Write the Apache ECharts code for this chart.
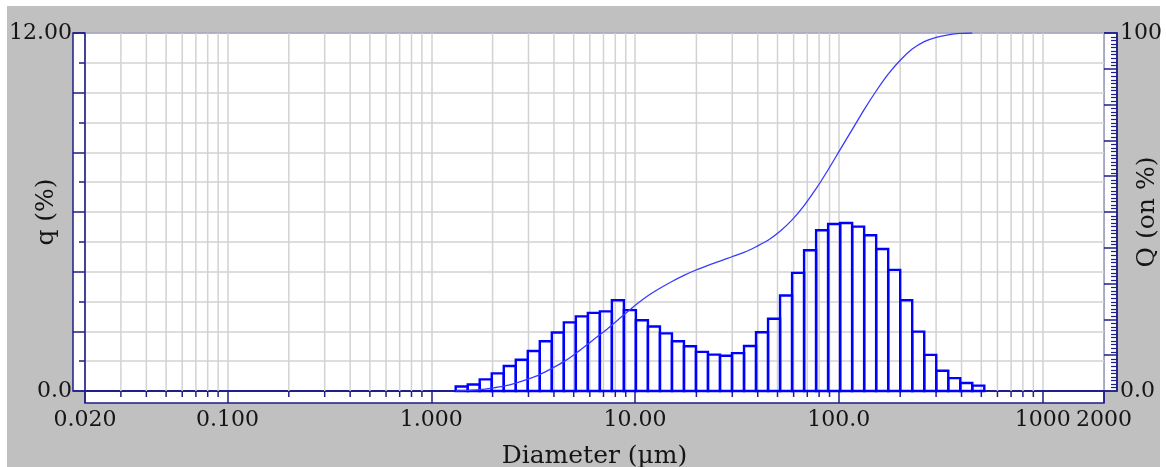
<!DOCTYPE html>
<html>
<head>
<meta charset="utf-8">
<script src="https://cdn.jsdelivr.net/npm/echarts@6/dist/echarts.min.js"></script>
<style>
  html, body { margin: 0; padding: 0; background: #ffffff; }
  #chart { width: 1166px; height: 467px; }
</style>
</head>
<body>
<div id="chart"></div>
<script>
// ---- data ----
// size-class edges (µm) of the histogram
const sizeEdges = [1.318, 1.510, 1.729, 1.981, 2.269, 2.599, 2.976, 3.409, 3.905, 4.472,
  5.122, 5.867, 6.720, 7.697, 8.816, 10.097, 11.565, 13.246, 15.172, 17.377,
  19.904, 22.797, 26.111, 29.907, 34.255, 39.234, 44.938, 51.471, 58.953, 67.523,
  77.339, 88.583, 101.46, 116.21, 133.10, 152.45, 174.61, 200.00, 229.07, 262.37,
  300.52, 344.21, 394.24, 451.56, 517.20];
// q (%) per class
const qValues = [0.15, 0.22, 0.39, 0.59, 0.84, 1.05, 1.34, 1.67, 1.96, 2.30,
  2.50, 2.62, 2.67, 3.04, 2.71, 2.37, 2.16, 1.93, 1.67, 1.50,
  1.31, 1.22, 1.18, 1.27, 1.51, 1.97, 2.42, 3.20, 3.96, 4.72,
  5.39, 5.60, 5.63, 5.51, 5.22, 4.76, 4.06, 3.04, 1.99, 1.21,
  0.68, 0.43, 0.27, 0.18];
// cumulative curve Q (%) points
const cumSizes = [1.318, 1.510, 1.729, 1.981, 2.269, 2.599, 2.976, 3.409, 3.905, 4.472,
  5.122, 5.867, 6.720, 7.697, 8.816, 10.097, 11.565, 13.246, 15.172, 17.377,
  19.904, 22.797, 26.111, 29.907, 34.255, 39.234, 44.938, 51.471, 58.953, 67.523,
  77.339, 88.583, 101.46, 116.21, 133.10, 152.45, 174.61, 200.00, 229.07, 262.37,
  300.52, 344.21, 394.24, 451.56];
const cumQ = [0, 0.15, 0.37, 0.80, 1.35, 2.19, 3.30, 4.60, 6.30, 8.2,
  10.5, 13.1, 15.7, 18.4, 21.3, 24.1, 26.6, 28.7, 30.6, 32.3,
  33.8, 35.1, 36.3, 37.5, 38.7, 40.3, 42.1, 44.6, 47.8, 51.8,
  56.5, 61.8, 67.4, 73.0, 78.6, 83.8, 88.5, 92.4, 95.5, 97.6,
  98.8, 99.5, 99.9, 100];
// axis ticks
const xTickValues = [0.02, 0.1, 1, 10, 100, 1000, 2000];
const xTickLabels = ['0.020', '0.100', '1.000', '10.00', '100.0', '1000', '2000'];
const xMinorGrid = [0.03, 0.04, 0.05, 0.06, 0.07, 0.08, 0.09,
  0.2, 0.3, 0.4, 0.5, 0.6, 0.7, 0.8, 0.9,
  2, 3, 4, 5, 6, 7, 8, 9,
  20, 30, 40, 50, 60, 70, 80, 90,
  200, 300, 400, 500, 600, 700, 800, 900];
const leftTickLabels = { 0: '0.0', 12: '12.00' };
const rightTickLabels = { 0: '0.0', 100: '100' };
// fine 1 % ticks of the right axis (those not on a 10 % tick)
const qFineTicks = [];
for (let i = 1; i < 100; i++) { if (i % 10 !== 0) qFineTicks.push(i); }

// ---- style / layout ----
const NAVY = '#1e1e8c';
const GRIDC = '#d2d2d2';
const BAR = '#0000ff';
const CURVE = '#3a3aff';
const TXT = '#151515';
const FONT = 'DejaVu Serif';
const G = { l: 85, t: 33, r: 1104, b: 391 };
const RSTRIP = 13;

function xLabel(v) {
  let best = 0, bd = Infinity;
  xTickValues.forEach((t, i) => {
    const d = Math.abs(Math.log10(t) - Math.log10(v));
    if (d < bd) { bd = d; best = i; }
  });
  return bd < 0.01 ? xTickLabels[best] : '';
}

const chart = echarts.init(document.getElementById('chart'), null, { renderer: 'canvas' });

chart.setOption({
  animation: false,
  backgroundColor: 'transparent',
  graphic: [
    { type: 'rect', z: -10, shape: { x: 7, y: 6, width: 1153, height: 461 }, style: { fill: '#c0c0c0' } },
    { type: 'rect', z: -5, shape: { x: 73, y: G.t, width: G.l - 73, height: G.b - G.t }, style: { fill: '#fff', stroke: NAVY, lineWidth: 1.5 } },
    { type: 'rect', z: -5, shape: { x: G.l, y: G.b, width: G.r - G.l, height: 12 }, style: { fill: '#fff', stroke: NAVY, lineWidth: 1.5 } },
    { type: 'rect', z: -5, shape: { x: G.r, y: G.t, width: RSTRIP, height: G.b - G.t }, style: { fill: '#fff', stroke: NAVY, lineWidth: 1.5 } }
  ],
  grid: {
    left: G.l, top: G.t, width: G.r - G.l, height: G.b - G.t,
    show: true, backgroundColor: '#ffffff', borderColor: NAVY, borderWidth: 1.5,
    containLabel: false, outerBoundsMode: 'none'
  },
  xAxis: [{
    type: 'log', logBase: 10, min: 0.02, max: 2000, position: 'bottom',
    axisLine: { show: true, lineStyle: { color: NAVY, width: 2 } },
    axisTick: { show: true, length: 12, lineStyle: { color: NAVY, width: 1.5 } },
    axisLabel: {
      formatter: xLabel, showMinLabel: true, showMaxLabel: true,
      fontFamily: FONT, fontSize: 22, color: TXT, margin: 18
    },
    splitLine: { show: true, lineStyle: { color: GRIDC, width: 1.5 } },
    name: 'Diameter (µm)', nameLocation: 'middle', nameGap: 53, nameMoveOverlap: false,
    nameTextStyle: { fontFamily: FONT, fontSize: 25, color: TXT }
  }],
  yAxis: [{
    type: 'value', min: 0, max: 12, interval: 2, position: 'left',
    axisLine: { show: true, lineStyle: { color: NAVY, width: 1.5 } },
    axisTick: { show: true, length: 12, lineStyle: { color: NAVY, width: 1.5 } },
    minorTick: { show: true, splitNumber: 2, length: 6, lineStyle: { color: NAVY, width: 1.5 } },
    splitLine: { show: true, lineStyle: { color: GRIDC, width: 1.5 } },
    minorSplitLine: { show: true, lineStyle: { color: GRIDC, width: 1.5 } },
    axisLabel: {
      formatter: v => leftTickLabels[v] || '', showMinLabel: true, showMaxLabel: true,
      fontFamily: FONT, fontSize: 22, color: TXT, margin: 13
    },
    name: 'q (%)', nameLocation: 'middle', nameRotate: 90, nameGap: 26, nameMoveOverlap: false,
    nameTextStyle: { fontFamily: FONT, fontSize: 25, color: TXT }
  }, {
    type: 'value', min: 0, max: 100, interval: 10, position: 'right', offset: RSTRIP,
    axisLine: { show: true, lineStyle: { color: NAVY, width: 1.5 } },
    axisTick: { show: true, inside: true, length: RSTRIP, lineStyle: { color: NAVY, width: 1.5 } },
    splitLine: { show: false },
    axisLabel: {
      formatter: v => rightTickLabels[v] || '', showMinLabel: true, showMaxLabel: true,
      fontFamily: FONT, fontSize: 22, color: TXT, margin: 3
    },
    name: 'Q (on %)', nameLocation: 'middle', nameRotate: 90, nameGap: 18, nameMoveOverlap: false,
    nameTextStyle: { fontFamily: FONT, fontSize: 25, color: TXT }
  }],
  series: [{
    name: 'minorGrid', type: 'custom', xAxisIndex: 0, yAxisIndex: 0, z: 1, clip: false, silent: true,
    data: xMinorGrid.map(v => [v, 0]),
    encode: { x: 0, y: 1 },
    renderItem: function (params, api) {
      const v = api.value(0);
      const top = api.coord([v, 12]);
      const bot = api.coord([v, 0]);
      return {
        type: 'group', children: [
          { type: 'line', shape: { x1: top[0], y1: top[1], x2: bot[0], y2: bot[1] }, style: { stroke: GRIDC, lineWidth: 1.5 } },
          { type: 'line', shape: { x1: bot[0], y1: bot[1], x2: bot[0], y2: bot[1] + 6 }, style: { stroke: NAVY, lineWidth: 1.5 } }
        ]
      };
    }
  }, {
    name: 'qFineTicks', type: 'custom', xAxisIndex: 0, yAxisIndex: 1, z: 8, clip: false, silent: true,
    data: qFineTicks.map(v => [100, v]),
    encode: { x: 0, y: 1 },
    renderItem: function (params, api) {
      const p = api.coord([100, api.value(1)]);
      const xr = params.coordSys.x + params.coordSys.width + RSTRIP;
      const y = Math.round(p[1]) + 0.5;
      return {
        type: 'line',
        shape: { x1: xr - 6, y1: y, x2: xr, y2: y },
        style: { stroke: NAVY, lineWidth: 1.2 }
      };
    }
  }, {
    name: 'q', type: 'custom', xAxisIndex: 0, yAxisIndex: 0, z: 3, clip: false,
    data: qValues.map((q, i) => [sizeEdges[i], sizeEdges[i + 1], q]),
    encode: { x: [0, 1], y: 2 },
    renderItem: function (params, api) {
      const lo = api.coord([api.value(0), 0]);
      const hi = api.coord([api.value(1), api.value(2)]);
      return {
        type: 'rect',
        shape: { x: lo[0], y: hi[1], width: hi[0] - lo[0], height: lo[1] - hi[1] },
        style: { fill: 'rgba(255,255,255,0)', stroke: BAR, lineWidth: 2.4 }
      };
    }
  }, {
    name: 'Q', type: 'line', xAxisIndex: 0, yAxisIndex: 1, z: 4,
    data: cumSizes.map((s, i) => [s, cumQ[i]]),
    showSymbol: false, symbol: 'none', smooth: 0.3,
    lineStyle: { color: CURVE, width: 1.3 }
  }]
});
</script>
</body>
</html>
